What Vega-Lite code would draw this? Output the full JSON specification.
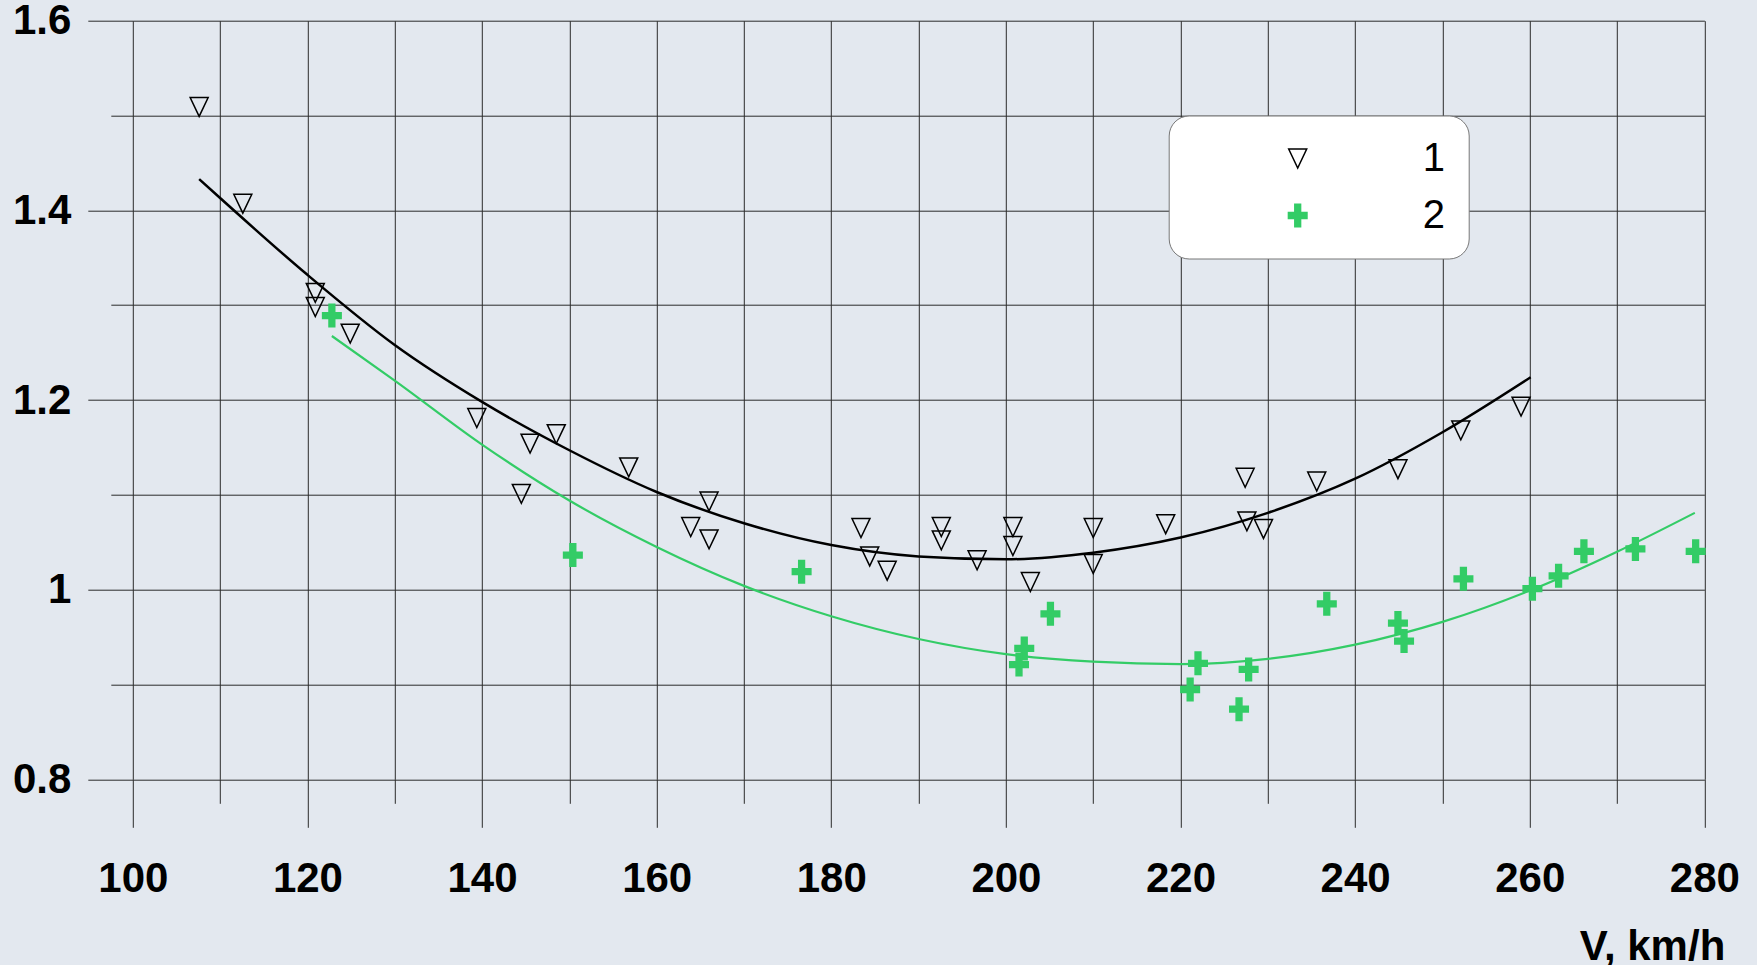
{
  "$schema": "https://vega.github.io/schema/vega-lite/v6.json",
  "width": 1571.6,
  "height": 758.6,
  "autosize": {"type": "none"},
  "padding": {"left": 132.8, "top": 20.7, "right": 52.6, "bottom": 185.7},
  "background": "#e3e8ef",
  "config": {
    "view": {"stroke": null},
    "legend": {
      "padding": 23,
      "cornerRadius": 20,
      "fillColor": "#ffffff",
      "strokeColor": "#777777",
      "symbolSize": 324,
      "symbolStrokeWidth": 1.5,
      "symbolOpacity": 1,
      "symbolOffset": 86,
      "labelOffset": 105,
      "labelFont": "Liberation Sans",
      "labelFontSize": 40,
      "labelColor": "#000000",
      "rowPadding": 17,
      "labelLimit": 0
    }
  },
  "datasets": {
    "points": [
      {"v": 107.6, "k": 1.509, "series": "1"},
      {"v": 112.6, "k": 1.407, "series": "1"},
      {"v": 120.9, "k": 1.313, "series": "1"},
      {"v": 120.9, "k": 1.298, "series": "1"},
      {"v": 124.9, "k": 1.270, "series": "1"},
      {"v": 139.4, "k": 1.181, "series": "1"},
      {"v": 144.5, "k": 1.101, "series": "1"},
      {"v": 145.5, "k": 1.154, "series": "1"},
      {"v": 148.5, "k": 1.164, "series": "1"},
      {"v": 156.8, "k": 1.129, "series": "1"},
      {"v": 163.9, "k": 1.066, "series": "1"},
      {"v": 166.0, "k": 1.093, "series": "1"},
      {"v": 166.0, "k": 1.053, "series": "1"},
      {"v": 183.4, "k": 1.065, "series": "1"},
      {"v": 184.4, "k": 1.035, "series": "1"},
      {"v": 186.4, "k": 1.020, "series": "1"},
      {"v": 192.6, "k": 1.066, "series": "1"},
      {"v": 192.6, "k": 1.052, "series": "1"},
      {"v": 196.7, "k": 1.031, "series": "1"},
      {"v": 200.8, "k": 1.066, "series": "1"},
      {"v": 200.8, "k": 1.046, "series": "1"},
      {"v": 202.8, "k": 1.008, "series": "1"},
      {"v": 210.0, "k": 1.065, "series": "1"},
      {"v": 210.0, "k": 1.027, "series": "1"},
      {"v": 218.3, "k": 1.069, "series": "1"},
      {"v": 227.4, "k": 1.118, "series": "1"},
      {"v": 227.6, "k": 1.072, "series": "1"},
      {"v": 229.5, "k": 1.064, "series": "1"},
      {"v": 235.6, "k": 1.114, "series": "1"},
      {"v": 244.9, "k": 1.127, "series": "1"},
      {"v": 252.1, "k": 1.168, "series": "1"},
      {"v": 259.0, "k": 1.193, "series": "1"},
      {"v": 122.8, "k": 1.289, "series": "2"},
      {"v": 150.4, "k": 1.0365, "series": "2"},
      {"v": 176.6, "k": 1.019, "series": "2"},
      {"v": 201.5, "k": 0.921, "series": "2"},
      {"v": 202.1, "k": 0.938, "series": "2"},
      {"v": 205.1, "k": 0.9745, "series": "2"},
      {"v": 221.1, "k": 0.8947, "series": "2"},
      {"v": 222.0, "k": 0.9223, "series": "2"},
      {"v": 226.7, "k": 0.874, "series": "2"},
      {"v": 227.8, "k": 0.9158, "series": "2"},
      {"v": 236.75, "k": 0.985, "series": "2"},
      {"v": 244.9, "k": 0.9648, "series": "2"},
      {"v": 245.6, "k": 0.9458, "series": "2"},
      {"v": 252.4, "k": 1.0114, "series": "2"},
      {"v": 260.3, "k": 1.001, "series": "2"},
      {"v": 263.3, "k": 1.0146, "series": "2"},
      {"v": 266.2, "k": 1.0404, "series": "2"},
      {"v": 272.1, "k": 1.0429, "series": "2"},
      {"v": 279.0, "k": 1.0404, "series": "2"}
    ],
    "fit1": [
      {"v": 107.6, "k": 1.433},
      {"v": 110, "k": 1.413},
      {"v": 120, "k": 1.332},
      {"v": 130, "k": 1.258},
      {"v": 140, "k": 1.198},
      {"v": 150, "k": 1.147},
      {"v": 160, "k": 1.103},
      {"v": 170, "k": 1.070},
      {"v": 180, "k": 1.047},
      {"v": 190, "k": 1.035},
      {"v": 200, "k": 1.032},
      {"v": 210, "k": 1.039},
      {"v": 220, "k": 1.055},
      {"v": 230, "k": 1.081},
      {"v": 240, "k": 1.117},
      {"v": 250, "k": 1.166},
      {"v": 260.1, "k": 1.224}
    ],
    "fit2": [
      {"v": 122.8, "k": 1.2675},
      {"v": 130, "k": 1.2205},
      {"v": 140, "k": 1.153},
      {"v": 150, "k": 1.094},
      {"v": 160, "k": 1.045},
      {"v": 170, "k": 1.004},
      {"v": 180, "k": 0.972},
      {"v": 190, "k": 0.948},
      {"v": 200, "k": 0.932},
      {"v": 210, "k": 0.924},
      {"v": 220, "k": 0.9215},
      {"v": 230, "k": 0.927},
      {"v": 240, "k": 0.942},
      {"v": 250, "k": 0.966},
      {"v": 260, "k": 0.999},
      {"v": 270, "k": 1.040},
      {"v": 278.9, "k": 1.081}
    ]
  },
  "encoding": {
    "x": {
      "field": "v",
      "type": "quantitative",
      "scale": {"domain": [100, 280], "nice": false, "zero": false},
      "axis": {
        "values": [100, 110, 120, 130, 140, 150, 160, 170, 180, 190, 200, 210, 220, 230, 240, 250, 260, 270, 280],
        "grid": true,
        "gridColor": "#2b2b2b",
        "gridWidth": 1,
        "gridOpacity": 1,
        "domain": false,
        "ticks": true,
        "tickColor": "#2b2b2b",
        "tickWidth": 1,
        "tickSize": {"condition": {"test": "datum.value % 20 == 0", "value": 48}, "value": 24},
        "labelExpr": "datum.value % 20 == 0 ? datum.label : ''",
        "labelFont": "Liberation Sans",
        "labelFontWeight": "bold",
        "labelFontSize": 42,
        "labelColor": "#000000",
        "labelPadding": 31,
        "labelDx": 4,
        "labelFlush": false,
        "labelOverlap": false,
        "title": "V, km/h",
        "titleFont": "Liberation Sans",
        "titleFontWeight": "bold",
        "titleFontSize": 42,
        "titleColor": "#000000",
        "titleAnchor": "end",
        "titleAlign": "right",
        "titleBaseline": "alphabetic",
        "titleX": 1592,
        "titleY": 180
      }
    },
    "y": {
      "field": "k",
      "type": "quantitative",
      "scale": {"domain": [0.8, 1.6], "nice": false, "zero": false},
      "axis": {
        "values": [0.8, 0.9, 1.0, 1.1, 1.2, 1.3, 1.4, 1.5, 1.6],
        "grid": true,
        "gridColor": "#2b2b2b",
        "gridWidth": 1,
        "gridOpacity": 1,
        "domain": false,
        "ticks": true,
        "tickColor": "#2b2b2b",
        "tickWidth": 1,
        "tickSize": {"condition": {"test": "round(datum.value * 10) % 2 == 0", "value": 45}, "value": 22},
        "labelExpr": "round(datum.value * 10) % 2 == 0 ? format(datum.value, '~g') : ''",
        "labelFont": "Liberation Sans",
        "labelFontWeight": "bold",
        "labelFontSize": 42,
        "labelColor": "#000000",
        "labelPadding": 17,
        "labelDy": 2,
        "labelFlush": false,
        "labelOverlap": false,
        "title": null
      }
    }
  },
  "layer": [
    {
      "data": {"name": "fit1"},
      "mark": {"type": "line", "color": "#000000", "strokeWidth": 2.5, "interpolate": "monotone"}
    },
    {
      "data": {"name": "fit2"},
      "mark": {"type": "line", "color": "#33cc66", "strokeWidth": 2.2, "interpolate": "monotone"}
    },
    {
      "data": {"name": "points"},
      "mark": {"type": "point", "size": 324, "strokeWidth": 1.5, "opacity": 1},
      "encoding": {
        "shape": {
          "field": "series",
          "type": "nominal",
          "scale": {
            "domain": ["1", "2"],
            "range": [
              "M-1,-1.05L1,-1.05L0,1.05Z",
              "M-0.32,-1.25L0.32,-1.25L0.32,-0.32L1.03,-0.32L1.03,0.32L0.32,0.32L0.32,1.25L-0.32,1.25L-0.32,0.32L-1.03,0.32L-1.03,-0.32L-0.32,-0.32Z"
            ]
          },
          "legend": {"orient": "none", "legendX": 1035.9, "legendY": 94.8, "title": null}
        },
        "fill": {
          "field": "series",
          "type": "nominal",
          "scale": {"domain": ["1", "2"], "range": ["transparent", "#33cc66"]},
          "legend": {"orient": "none", "legendX": 1035.9, "legendY": 94.8, "title": null}
        },
        "stroke": {
          "field": "series",
          "type": "nominal",
          "scale": {"domain": ["1", "2"], "range": ["#000000", "#33cc66"]},
          "legend": {"orient": "none", "legendX": 1035.9, "legendY": 94.8, "title": null}
        }
      }
    }
  ]
}
